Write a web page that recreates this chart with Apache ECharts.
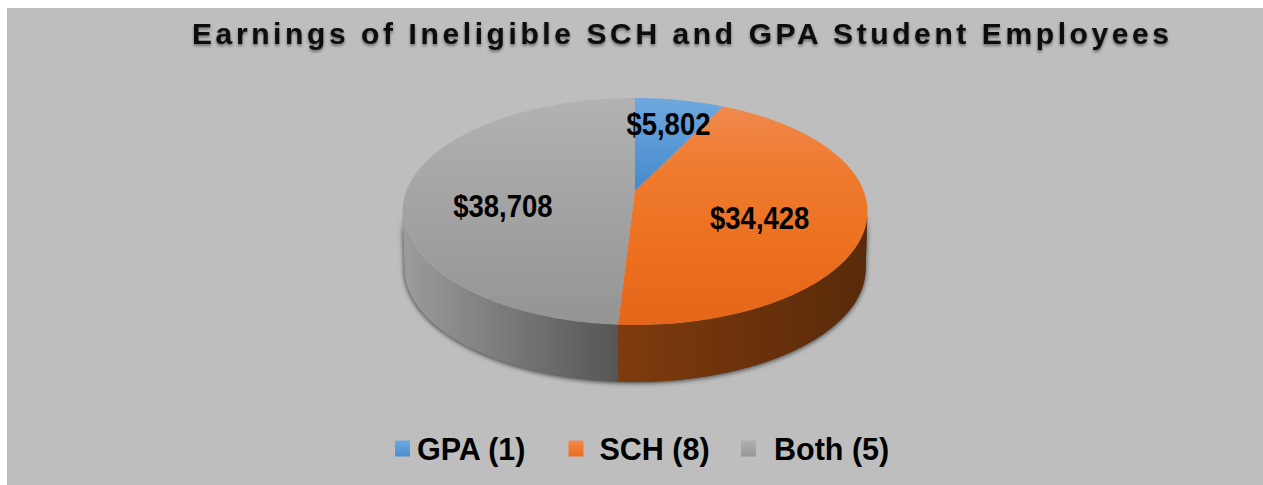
<!DOCTYPE html>
<html><head><meta charset="utf-8">
<style>
html,body{margin:0;padding:0;background:#fff;overflow:hidden}
#main{width:1263px;height:485px}
#main svg text[style*="30px"]{letter-spacing:3.6px}
</style>
<script src="https://cdn.jsdelivr.net/npm/echarts@6/dist/echarts.min.js"></script>
</head><body><div id="main"></div>
<script>
const titleText = 'Earnings of Ineligible SCH and GPA Student Employees';
const categories = ['GPA (1)', 'SCH (8)', 'Both (5)'];
const earnings = [5802, 34428, 38708];
const earningLabels = ['$5,802', '$34,428', '$38,708'];

const total = earnings.reduce((a, b) => a + b, 0);
const FONT = '"Liberation Sans", Arial, sans-serif';
// Perspective projection of the unit disc on the screen
const CX = 635, CY = 191, R = 228.7, K = 0.1806, B = 75.3, DEPTH = 57, BOTTOM_SCALE = 0.992;
function project(angle, r) {
  const X = r * Math.sin(angle), Y = r * Math.cos(angle), w = 1 + K * Y;
  return [CX + R * X / w, (CY - B * Y) / w];
}
function arc(a, b) {
  const n = Math.max(2, Math.ceil(Math.abs(b - a) / 0.01)), pts = [];
  for (let i = 0; i <= n; i++) pts.push(project(a + (b - a) * i / n, 1));
  return pts;
}
const lower = pts => pts.map(p => [CX + (p[0] - CX) * BOTTOM_SCALE, p[1] + DEPTH]).reverse();
const stops = cs => cs.map((c, i) => ({offset: i / (cs.length - 1), color: c}));
const grad = (x0, y0, x1, y1, cs) => new echarts.graphic.LinearGradient(x0, y0, x1, y1, stops(cs), true);
const faceColors = [['#6ea8de', '#4589cc'], ['#f08a50', '#ef7a2e', '#ec701f', '#e4661a'], ['#b2b2b2', '#949494']];
const faceRange = [[98, 191], [98, 325], [98, 325]];
const legendColors = [['#6fa8de', '#4a8ecf'], ['#f28a4c', '#ea6b1c'], ['#b0b0b0', '#979797']];
const wallColors = [null, ['#7f3b0d', '#592a0a'], ['#9c9c9c', '#555555']];
const labelRadius = [0.72, 0.55, 0.58], labelDy = [2, 11, 17];
const legendLeft = [390, 563.5, 736], legendPad = [2, 11, 13];

const starts = [];
earnings.reduce((s, v, i) => (starts[i] = s, s + v), 0);
const toAngle = v => v / total * Math.PI * 2;
// The silhouette extremes of the rim in angle space
const rightEdge = Math.PI - Math.acos(K), leftEdge = Math.PI + Math.acos(K);

function renderSlice(i, params, api) {
  const a = toAngle(starts[i]), b = a + toAngle(api.value(0));
  const face = [project(a, 0), ...arc(a, b)];
  const children = [];
  if (i === categories.length - 1) {
    const rim = arc(rightEdge, leftEdge);
    children.push({
      type: 'polygon', z2: 0,
      shape: {points: rim.concat(lower(rim))},
      style: {fill: '#4a4a4a', shadowBlur: 5, shadowOffsetY: 1, shadowColor: 'rgba(0,0,0,0.7)'}
    });
  }
  const wa = Math.max(a, rightEdge), wb = Math.min(b, leftEdge);
  if (wallColors[i] && wb > wa) {
    const top = arc(wa, wb);
    const xs = top.map(p => p[0]);
    children.push({
      type: 'polygon', z2: 1,
      shape: {points: top.concat(lower(top))},
      style: {fill: grad(Math.min(...xs), 0, Math.max(...xs), 0, wallColors[i])}
    });
  }
  children.push({
    type: 'polygon', z2: 5,
    shape: {points: face},
    style: {fill: grad(0, faceRange[i][0], 0, faceRange[i][1], faceColors[i])}
  });
  const m = project((a + b) / 2, labelRadius[i]);
  children.push({
    type: 'text', z2: 10, x: m[0], y: m[1] + labelDy[i], scaleY: 1.12,
    style: {
      x: 0, y: 0, text: earningLabels[i],
      align: 'center', verticalAlign: 'middle',
      font: 'bold 27.5px ' + FONT, fill: '#000'
    }
  });
  return {type: 'group', children};
}

const option = {
  animation: false,
  backgroundColor: '#ffffff',
  graphic: [{type: 'rect', z: -1, shape: {x: 7, y: 8, width: 1256, height: 477}, style: {fill: '#bebebe'}}],
  title: {
    text: titleText, left: 187, top: 13,
    textStyle: {
      fontFamily: FONT, fontWeight: 'bold', fontSize: 30, color: '#0a0a0a',
      textShadowColor: 'rgba(0,0,0,0.45)', textShadowBlur: 3, textShadowOffsetY: 2
    }
  },
  legend: categories.map((c, i) => ({
    data: [c], left: legendLeft[i], top: 428, orient: 'horizontal',
    itemWidth: 15, itemHeight: 16, icon: 'rect', selectedMode: false,
    textStyle: {fontFamily: FONT, fontWeight: 'bold', fontSize: 30.5, color: '#000', padding: [0, 0, 0, legendPad[i]]}
  })),
  series: categories.map((c, i) => ({
    type: 'custom', name: c, coordinateSystem: 'none',
    z: 4 - i,
    itemStyle: {color: new echarts.graphic.LinearGradient(0, 0, 0, 1, stops(legendColors[i]))},
    data: [[earnings[i]]],
    renderItem: (p, api) => renderSlice(i, p, api)
  }))
};
const chart = echarts.init(document.getElementById('main'), null, {renderer: 'svg', width: 1263, height: 485});
chart.setOption(option);
</script></body></html>
